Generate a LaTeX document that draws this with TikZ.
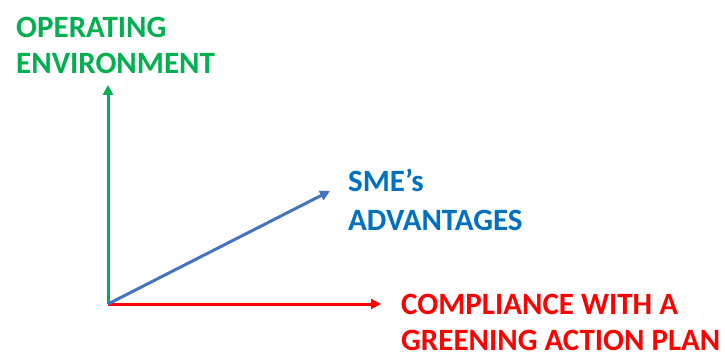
\documentclass[tikz,border=0pt]{standalone}
\usepackage{fontspec}
\setmainfont{Carlito}
\usetikzlibrary{arrows.meta}
\definecolor{axgreen}{RGB}{0,176,80}
\definecolor{axred}{RGB}{255,0,0}
\definecolor{axblue}{RGB}{68,114,196}
\definecolor{txtblue}{RGB}{0,112,192}
\tikzset{
  axis/.style={line width=3pt, -{Triangle[length=10pt,width=10pt]}},
  lab/.style={anchor=north west, inner sep=0pt, align=left,
    font=\fontsize{31}{36}\selectfont\bfseries}
}

\begin{document}
\begin{tikzpicture}[x=1pt,y=1pt]
			\useasboundingbox (0,0) rectangle (725,354);
			\coordinate (o) at (108,50);
			\coordinate (env) at (108,269);
			\coordinate (comp) at (381,50);
			\coordinate (sme) at (330,163);
			\node[lab, text=axgreen] (envlab) at (16,337) {OPERATING\\ENVIRONMENT};
			\node[lab, text=txtblue, font=\fontsize{31}{39}\selectfont\bfseries] (smelab) at (348,185) {SME’s\\ADVANTAGES};
			\node[lab, text=axred] (complab) at (401,60) {COMPLIANCE WITH A\\GREENING ACTION PLAN};
			\draw[axis, axgreen] (o) -- (env);
			\draw[axis, axred] (o) -- (comp);
			\draw[axis, axblue] (o) -- (sme);
		\end{tikzpicture}
\end{document}
